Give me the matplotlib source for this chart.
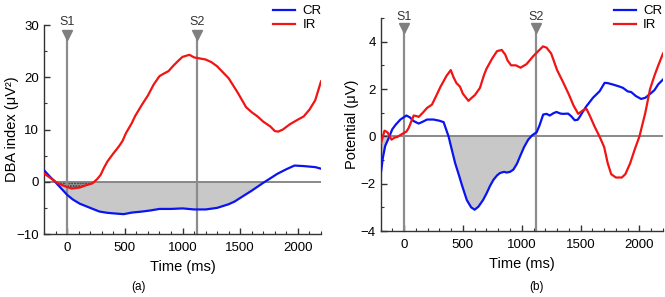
import numpy as np
import matplotlib
matplotlib.use("Agg")
import matplotlib.pyplot as plt
from matplotlib.ticker import MultipleLocator

plt.rcParams['font.family'] = ['Liberation Sans', 'DejaVu Sans']
plt.rcParams['hatch.linewidth'] = 1.0

########################################################################################################################
# data
# (a) DBA index
a_cr_t = [-200, -150, -100, -50, 0, 50, 110, 200, 280, 350, 430, 490, 560, 650, 720, 800, 900, 1000, 1100,
          1200, 1300, 1400, 1450, 1500, 1600, 1700, 1750, 1820, 1900, 1970, 2050, 2150, 2200]
a_cr_v = [2.2, 1.0, -0.1, -1.3, -2.5, -3.4, -4.2, -5.0, -5.7, -5.95, -6.1, -6.2, -5.9, -5.7, -5.5, -5.2, -5.2,
          -5.1, -5.3, -5.3, -5.0, -4.3, -3.8, -3.1, -1.7, -0.2, 0.5, 1.5, 2.4, 3.1, 3.0, 2.8, 2.5]
a_ir_t = [-200, -150, -100, -50, 0, 40, 110, 160, 220, 260, 290, 320, 350, 400, 450, 480, 510, 560, 590, 650,
          700, 750, 800, 830, 880, 920, 970, 1000, 1060, 1100, 1150, 1200, 1250, 1300, 1400, 1480, 1550, 1600,
          1650, 1700, 1760, 1800, 1830, 1870, 1930, 2000, 2050, 2100, 2150, 2200]
a_ir_v = [1.6, 0.8, 0.0, -0.6, -1.0, -1.3, -1.1, -0.7, -0.3, 0.5, 1.3, 2.7, 3.9, 5.4, 6.8, 7.8, 9.3, 11.2, 12.6,
          14.8, 16.5, 18.6, 20.2, 20.6, 21.2, 22.2, 23.3, 23.9, 24.3, 23.8, 23.6, 23.4, 22.9, 22.1, 19.8, 17.0,
          14.3, 13.3, 12.5, 11.5, 10.6, 9.7, 9.6, 10.0, 11.0, 11.9, 12.5, 13.8, 15.6, 19.2]

# (b) potential
b_cr_t = [-195, -180, -160, -130, -100, -70, -31, 20, 50, 80, 124, 160, 195, 250, 300, 336, 378, 400, 434, 470,
          491, 533, 570, 600, 632, 670, 702, 730, 759, 790, 815, 850, 872, 900, 928, 960, 985, 1020, 1055, 1090,
          1126, 1150, 1182, 1210, 1238, 1270, 1295, 1330, 1351, 1394, 1420, 1450, 1475, 1492, 1520, 1549, 1605,
          1640, 1662, 1704, 1730, 1774, 1820, 1859, 1900, 1930, 1970, 2014, 2050, 2085, 2127, 2160, 2200]
b_cr_v = [-1.48, -0.9, -0.4, -0.07, 0.3, 0.5, 0.71, 0.88, 0.8, 0.65, 0.54, 0.62, 0.71, 0.71, 0.66, 0.6, 0.0,
          -0.45, -1.13, -1.7, -2.05, -2.69, -3.0, -3.1, -2.97, -2.7, -2.4, -2.1, -1.84, -1.65, -1.55, -1.5, -1.53,
          -1.5, -1.41, -1.15, -0.85, -0.45, -0.14, 0.05, 0.17, 0.45, 0.92, 0.95, 0.88, 0.98, 1.03, 0.96, 0.95,
          0.96, 0.85, 0.68, 0.7, 0.82, 1.05, 1.27, 1.63, 1.8, 1.91, 2.26, 2.25, 2.19, 2.12, 2.05, 1.9, 1.87, 1.7,
          1.58, 1.63, 1.77, 1.95, 2.2, 2.4]
b_ir_t = [-195, -166, -150, -138, -107, -80, -59, -3, 20, 39, 82, 110, 124, 160, 195, 237, 279, 310, 336, 360,
          397, 420, 445, 475, 500, 547, 580, 603, 645, 680, 700, 750, 790, 830, 860, 880, 910, 950, 990, 1040,
          1100, 1150, 1180, 1210, 1250, 1300, 1350, 1400, 1440, 1480, 1520, 1550, 1580, 1620, 1660, 1700, 1730,
          1760, 1800, 1850, 1880, 1920, 1960, 2000, 2050, 2090, 2130, 2160, 2200]
b_ir_v = [-0.28, 0.24, 0.2, 0.15, -0.14, -0.05, -0.03, 0.14, 0.2, 0.35, 0.88, 0.85, 0.82, 1.0, 1.2, 1.34, 1.77,
          2.1, 2.33, 2.55, 2.8, 2.5, 2.25, 2.1, 1.8, 1.5, 1.65, 1.75, 2.05, 2.6, 2.85, 3.3, 3.6, 3.65, 3.45, 3.2,
          3.0, 3.0, 2.9, 3.05, 3.4, 3.65, 3.8, 3.75, 3.5, 2.8, 2.3, 1.77, 1.3, 0.95, 1.1, 1.16, 0.85, 0.4, 0.0,
          -0.45, -1.13, -1.6, -1.74, -1.74, -1.6, -1.15, -0.55, 0.0, 1.0, 2.0, 2.6, 3.0, 3.5]

stim_t = [0, 1125]
stim_lab = ['S1', 'S2']

BLUE = '#0a14f0'
RED = '#f01414'
GREY = '#8c8c8c'


########################################################################################################################
# one panel
def panel(ax, cr_t, cr_v, ir_t, ir_v, ylim, ystep, yminor, ylabel, ylab_x, tri_y, lab_y, hatch_ir=False):
    cr_t, cr_v = np.array(cr_t), np.array(cr_v)
    ir_t, ir_v = np.array(ir_t), np.array(ir_v)

    ax.axhline(0, color='#808080', lw=1.3, zorder=1)
    ax.fill_between(cr_t, cr_v, 0, where=cr_v < 0, interpolate=True, facecolor='#c8c8c8', lw=0, zorder=0)
    if hatch_ir:
        m = ir_t < 400
        ax.fill_between(ir_t[m], ir_v[m], 0, where=ir_v[m] < 0, interpolate=True, facecolor='#9a9a9a',
                        edgecolor='#303030', hatch='......', lw=0, zorder=0.5)

    for t, lab in zip(stim_t, stim_lab):
        ax.plot([t, t], [ylim[0], tri_y], color=GREY, lw=1.6, zorder=2, clip_on=False)
        ax.plot([t], [tri_y], marker='v', color='#7f7f7f', ms=7, zorder=3, clip_on=False)
        ax.text(t, lab_y, lab, ha='center', va='center', fontsize=9, color='#333333', clip_on=False)

    ax.plot(cr_t, cr_v, color=BLUE, lw=1.6, label='CR', zorder=4)
    ax.plot(ir_t, ir_v, color=RED, lw=1.6, label='IR', zorder=4)

    ax.set_xlim(-200, 2200)
    ax.set_ylim(*ylim)
    ax.xaxis.set_major_locator(MultipleLocator(500))
    ax.xaxis.set_minor_locator(MultipleLocator(100))
    ax.yaxis.set_major_locator(MultipleLocator(ystep))
    ax.yaxis.set_minor_locator(MultipleLocator(yminor))
    ax.tick_params(which='both', direction='in', labelsize=9.5, colors='#333333', labelcolor='black')
    ax.tick_params(which='major', length=4, width=1)
    ax.tick_params(which='minor', length=2.2, width=0.8)
    ax.tick_params(axis='x', pad=6)
    for s in ['top', 'right']:
        ax.spines[s].set_visible(False)
    for s in ['left', 'bottom']:
        ax.spines[s].set_color('#333333')
        ax.spines[s].set_linewidth(1.0)
    ax.set_xlabel('Time (ms)', fontsize=10.5, labelpad=4)
    ax.set_ylabel(ylabel, fontsize=10.5)
    ax.yaxis.set_label_coords(ylab_x, 0.5)
    ax.yaxis.set_major_formatter(plt.FuncFormatter(lambda v, p: ('%g' % v).replace('-', '\u2212')))


########################################################################################################################
fig = plt.figure(figsize=(6.65, 2.97), dpi=100)
ax1 = fig.add_axes([0.0662, 0.2121, 0.4165, 0.7037])
ax2 = fig.add_axes([0.5722, 0.2222, 0.4248, 0.7172])

panel(ax1, a_cr_t, a_cr_v, a_ir_t, a_ir_v, (-10, 30), 10, 5, 'DBA index (\u03bcV\u00b2)', -0.09,
      28.0, 30.6, hatch_ir=True)
panel(ax2, b_cr_t, b_cr_v, b_ir_t, b_ir_v, (-4, 5), 2, 1, 'Potential (\u03bcV)', -0.077, 4.58, 5.05)

for ax, x in [(ax1, 0.488), (ax2, 1.0)]:
    leg = ax.legend(loc='upper right', bbox_to_anchor=(x, 1 - 2.5 / 297), bbox_transform=fig.transFigure,
                    frameon=False, fontsize=9.5, handlelength=1.7, handletextpad=0.55, labelspacing=0.12,
                    borderpad=0.2, borderaxespad=0.0)

fig.text(138 / 665, 1 - 287 / 297, '(a)', ha='center', va='center', fontsize=8.5)
fig.text(536 / 665, 1 - 287 / 297, '(b)', ha='center', va='center', fontsize=8.5)

fig.savefig('out.png', dpi=100)
